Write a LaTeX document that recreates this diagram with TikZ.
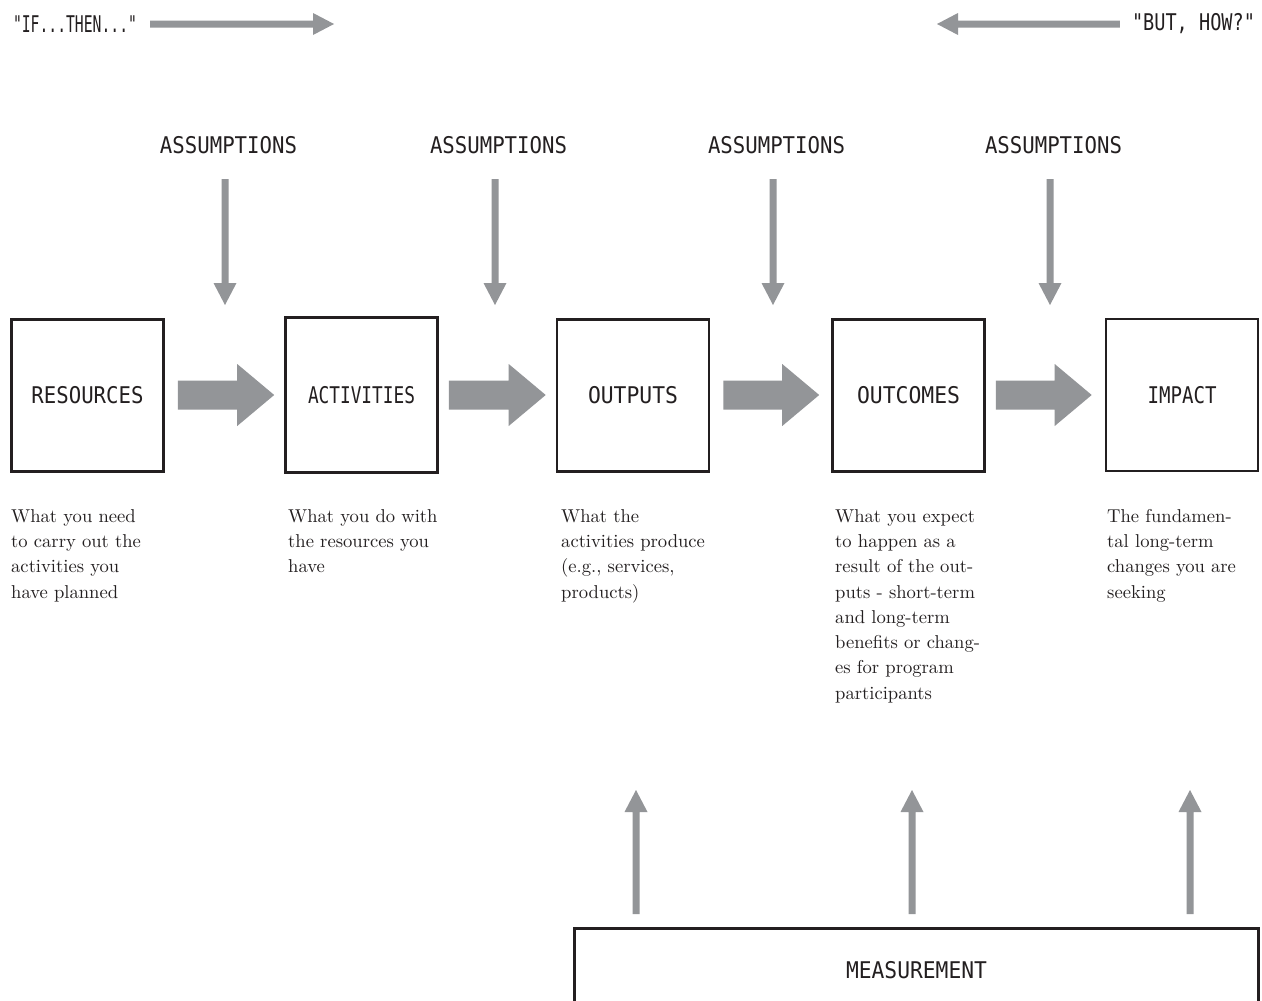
\documentclass[tikz,border=0pt]{standalone}
\usepackage{fontspec}
\usepackage{graphicx}
\newfontfamily\labfont{DejaVu Sans Mono}
\newfontfamily\bodyfont{lmroman10-regular}[Extension=.otf]
\usetikzlibrary{calc}
\definecolor{arrowgray}{RGB}{147,149,152}
\definecolor{ink}{RGB}{35,31,32}
\newcommand\fitw[2]{\resizebox{#1}{\height}{\labfont\fontsize{23}{23}\selectfont #2}}
% horizontal block arrow: start, end, shaft half width, head half width, head length
\newcommand\harrow[5]{\fill[arrowgray] let \p1=(#1), \p2=(#2), \n1={sign(\x2-\x1)*#5} in
  ({\x1},{\y1+#3}) -- ({\x2-\n1},{\y1+#3}) -- ({\x2-\n1},{\y1+#4}) -- ({\x2},{\y1})
  -- ({\x2-\n1},{\y1-#4}) -- ({\x2-\n1},{\y1-#3}) -- ({\x1},{\y1-#3}) -- cycle;}
% vertical block arrow
\newcommand\varrow[5]{\fill[arrowgray] let \p1=(#1), \p2=(#2), \n1={sign(\y2-\y1)*#5} in
  ({\x1+#3},{\y1}) -- ({\x1+#3},{\y2-\n1}) -- ({\x1+#4},{\y2-\n1}) -- ({\x1},{\y2})
  -- ({\x1-#4},{\y2-\n1}) -- ({\x1-#3},{\y2-\n1}) -- ({\x1-#3},{\y1}) -- cycle;}
\tikzset{
  lab/.style={inner sep=0pt, text=ink},
  stage/.style={draw=ink, line width=2.6pt, minimum width=152pt, minimum height=152pt, inner sep=0pt, text=ink},
  desc/.style={anchor=north west, inner sep=0pt, align=left, text=ink, font=\bodyfont\fontsize{18.6}{25.3}\selectfont},
}
\begin{document}
\begin{tikzpicture}[x=1pt,y=1pt]
\useasboundingbox (0,0) rectangle (1262,-1001);
\clip (0,0) rectangle (1262,-1001);
\fill[white] (0,0) rectangle (1262,-1001);

% top direction labels
\node[lab] (ift) at (75,-24) {\fitw{124pt}{"IF...THEN..."}};
\node[lab] (bhow) at (1193.5,-24) {\fitw{123pt}{"BUT, HOW?"}};
\coordinate (ifs) at ($(ift.east)+(13,0)$);
\coordinate (ife) at (334,-24);
\coordinate (bhs) at ($(bhow.west)+(-12,0)$);
\coordinate (bhe) at (937,-24);
\harrow{ifs}{ife}{3.5pt}{11pt}{21pt}
\harrow{bhs}{bhe}{3.5pt}{11pt}{21pt}

% assumptions
\node[lab] (as1) at (228.5,-145) {\fitw{137pt}{ASSUMPTIONS}};
\node[lab] (as2) at (498.5,-145) {\fitw{137pt}{ASSUMPTIONS}};
\node[lab] (as3) at (776.5,-145) {\fitw{137pt}{ASSUMPTIONS}};
\node[lab] (as4) at (1053.5,-145) {\fitw{137pt}{ASSUMPTIONS}};
\foreach \i in {1,2,3,4}{
  \coordinate (d\i s) at ($(as\i.center)+(-3.5,-34)$);
  \coordinate (d\i e) at ($(as\i.center)+(-3.5,-160)$);
}
\varrow{d1s}{d1e}{3.5pt}{11.5pt}{22pt}
\varrow{d2s}{d2e}{3.5pt}{11.5pt}{22pt}
\varrow{d3s}{d3e}{3.5pt}{11.5pt}{22pt}
\varrow{d4s}{d4e}{3.5pt}{11.5pt}{22pt}

% stages
\node[stage] (res) at (87.5,-395.5) {\fitw{112pt}{RESOURCES}};
\node[stage, minimum height=155pt] (act) at (361.5,-395) {\fitw{107pt}{ACTIVITIES}};
\node[stage] (out) at (633,-395.5) {\fitw{90pt}{OUTPUTS}};
\node[stage] (oc) at (908.5,-395.5) {\fitw{103pt}{OUTCOMES}};
\node[stage] (imp) at (1182,-395) {\fitw{69pt}{IMPACT}};

\coordinate (a1s) at ($(res.east)+(13,0.5)$);
\coordinate (a1e) at ($(act.west)+(-10,0)$);
\coordinate (a2s) at ($(act.east)+(10,0)$);
\coordinate (a2e) at ($(out.west)+(-10,0.5)$);
\coordinate (a3s) at ($(out.east)+(13,0.5)$);
\coordinate (a3e) at ($(oc.west)+(-12,0.5)$);
\coordinate (a4s) at ($(oc.east)+(10,0.5)$);
\coordinate (a4e) at ($(imp.west)+(-13,0)$);
\harrow{a1s}{a1e}{14.5pt}{31pt}{37pt}
\harrow{a2s}{a2e}{14.5pt}{31pt}{37pt}
\harrow{a3s}{a3e}{14.5pt}{31pt}{37pt}
\harrow{a4s}{a4e}{14.5pt}{31pt}{37pt}

% descriptions
\node[desc] (dres) at (11,-509) {What you need\\to carry out the\\activities you\\have planned};
\node[desc] (dact) at (288,-509) {What you do with\\the resources you\\have};
\node[desc] (dout) at (561,-509) {What the\\activities produce\\(e.g., services,\\products)};
\node[desc] (doc) at (835,-509) {What you expect\\to happen as a\\result of the out-\\puts - short-term\\and long-term\\benefits or chang-\\es for program\\participants};
\node[desc] (dimp) at (1107,-509) {The fundamen-\\tal long-term\\changes you are\\seeking};

% measurement
\node[stage, minimum width=684.4pt, minimum height=84pt, anchor=north west] (meas) at (573,-927) {\fitw{141pt}{MEASUREMENT}};
\coordinate (u1s) at (636,-914);
\coordinate (u1e) at (636,-790);
\coordinate (u2s) at (912,-914);
\coordinate (u2e) at (912,-790);
\coordinate (u3s) at (1190,-914);
\coordinate (u3e) at (1190,-790);
\varrow{u1s}{u1e}{3.5pt}{11.5pt}{22pt}
\varrow{u2s}{u2e}{3.5pt}{11.5pt}{22pt}
\varrow{u3s}{u3e}{3.5pt}{11.5pt}{22pt}
\end{tikzpicture}
\end{document}
